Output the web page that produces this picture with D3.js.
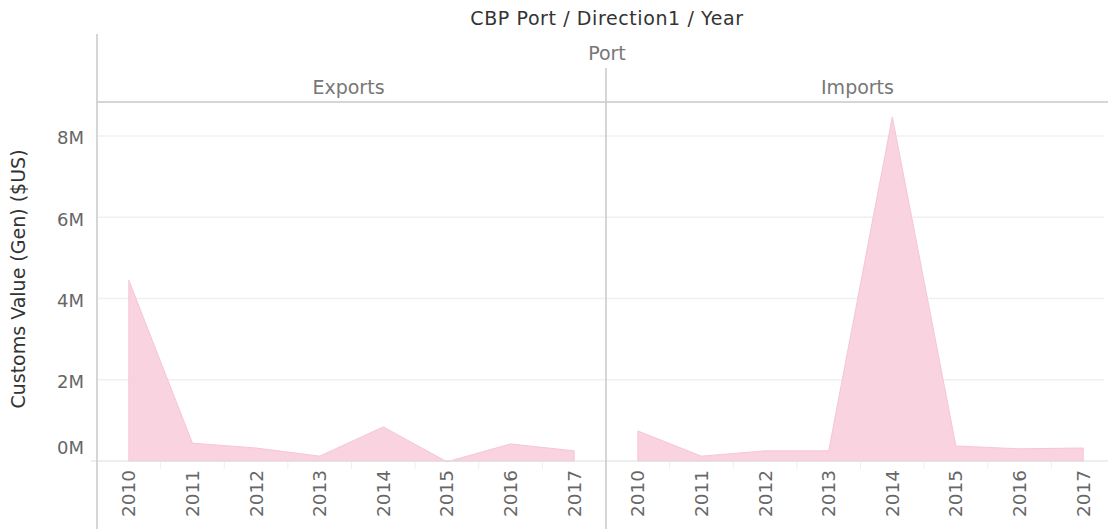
<!DOCTYPE html>
<html>
<head>
<meta charset="utf-8">
<script src="https://cdn.jsdelivr.net/npm/d3@7"></script>
<style>
  body { margin: 0; background: #fff; }
  text { font-family: "DejaVu Sans", sans-serif; }
</style>
</head>
<body>
<div id="container"></div>
<script>
// data
const years = ["2010", "2011", "2012", "2013", "2014", "2015", "2016", "2017"]
const directions = ["Exports", "Imports"]
const exportsValues = [4.45e6, 0.44e6, 0.32e6, 0.12e6, 0.84e6, -0.02e6, 0.42e6, 0.25e6]
const importsValues = [0.74e6, 0.12e6, 0.25e6, 0.25e6, 8.47e6, 0.37e6, 0.30e6, 0.32e6]
const yTicks = [0, 2e6, 4e6, 6e6, 8e6]

const seriesByDirection = { Exports: exportsValues, Imports: importsValues }

const W = 1108, H = 529
const left = 97, right = 1115, split = 606
const plotTop = 102, zeroY = 461

let svg = d3.select("#container")
    .append("svg")
    .attr("width", W)
    .attr("height", H)

// title + headers
svg.append("text")
    .attr("x", 607).attr("y", 25)
    .attr("text-anchor", "middle")
    .style("font-size", "19px")
    .style("letter-spacing", "0.6px")
    .style("fill", "#333")
    .text("CBP Port / Direction1 / Year")

svg.append("text")
    .attr("x", 607).attr("y", 60)
    .attr("text-anchor", "middle")
    .style("font-size", "19px")
    .style("fill", "#777")
    .text("Port")

const yScale = d3.scaleLinear()
    .domain([0, 8e6])
    .range([zeroY, 136])

const panelX = d3.scaleBand()
    .domain(directions)
    .range([left, right])
    .paddingInner(0)

// gridlines
svg.append("g")
    .selectAll("line")
    .data(yTicks.filter(d => d > 0))
    .enter()
    .append("line")
    .attr("x1", left + 1).attr("x2", 1104)
    .attr("y1", d => yScale(d)).attr("y2", d => yScale(d))
    .style("stroke", "#f0f0f0")
    .style("stroke-width", 1.5)

directions.forEach(function (dir) {
    const x0 = panelX(dir)
    const xScale = d3.scaleBand()
        .domain(years)
        .range([x0, x0 + panelX.bandwidth()])

    // header
    svg.append("text")
        .attr("x", x0 + panelX.bandwidth() / 2 - 3)
        .attr("y", 94)
        .attr("text-anchor", "middle")
        .style("font-size", "19px")
        .style("fill", "#777")
        .text(dir)

    const area = d3.area()
        .x((d, i) => xScale(years[i]) + xScale.bandwidth() / 2)
        .y0(yScale(0))
        .y1(d => yScale(d))

    svg.append("path")
        .attr("d", area(seriesByDirection[dir]))
        .attr("fill", "#f9d3df")
        .attr("stroke", "#f6c6d5")
        .attr("stroke-width", 1)

    // band separators on the x axis
    svg.append("g")
        .selectAll("line")
        .data(years.slice(1))
        .enter()
        .append("line")
        .attr("x1", d => xScale(d)).attr("x2", d => xScale(d))
        .attr("y1", zeroY).attr("y2", zeroY + 8)
        .style("stroke", "#eee")

    // year labels
    svg.append("g")
        .selectAll("text")
        .data(years)
        .enter()
        .append("text")
        .attr("transform", d => "translate(" + (xScale(d) + xScale.bandwidth() / 2 + 6.5) + "," + 470 + ") rotate(-90)")
        .attr("text-anchor", "end")
        .style("font-size", "18.5px")
        .style("fill", "#666")
        .text(d => d)
})

// zero line
svg.append("line")
    .attr("x1", left - 6).attr("x2", W)
    .attr("y1", zeroY).attr("y2", zeroY)
    .style("stroke", "#ddd")

// frame lines
svg.append("line")
    .attr("x1", left).attr("x2", W)
    .attr("y1", plotTop).attr("y2", plotTop)
    .style("stroke", "#c8c8c8").style("stroke-width", 1.5)
svg.append("line")
    .attr("x1", left).attr("x2", left)
    .attr("y1", 34).attr("y2", H)
    .style("stroke", "#c8c8c8").style("stroke-width", 1.5)
svg.append("line")
    .attr("x1", split).attr("x2", split)
    .attr("y1", 68).attr("y2", H)
    .style("stroke", "#c8c8c8").style("stroke-width", 1.5)

// y axis labels (the bottom one is pulled up to sit above the zero line)
svg.append("g")
    .selectAll("text")
    .data(yTicks)
    .enter()
    .append("text")
    .attr("x", 84)
    .attr("y", d => d === 0 ? yScale(d) - 13 : yScale(d) + 2)
    .attr("text-anchor", "end")
    .attr("dy", "0.35em")
    .style("font-size", "18px")
    .style("fill", "#666")
    .text(d => (d / 1e6) + "M")

svg.append("text")
    .attr("transform", "translate(25," + 279 + ") rotate(-90)")
    .attr("text-anchor", "middle")
    .style("font-size", "19px")
    .style("fill", "#333")
    .text("Customs Value (Gen) ($US)")
</script>
</body>
</html>
